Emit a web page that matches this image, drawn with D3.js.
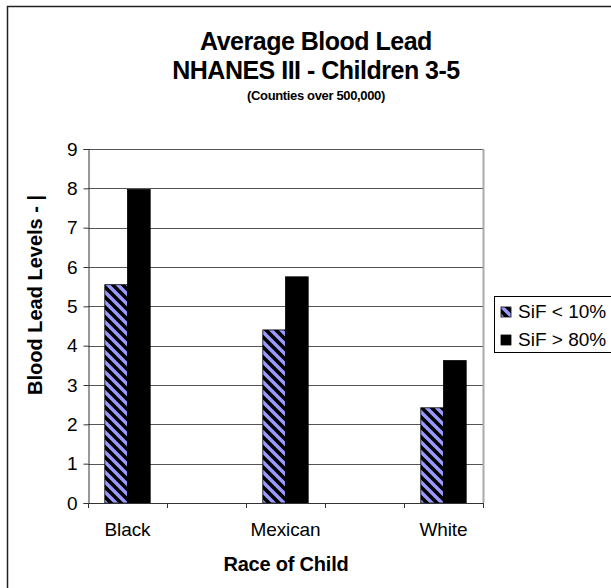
<!DOCTYPE html>
<html>
<head>
<meta charset="utf-8">
<script src="https://cdn.jsdelivr.net/npm/d3@7"></script>
<style>
  html, body { margin: 0; padding: 0; background: #fff; }
  svg { display: block; font-family: "Liberation Sans", Arial, sans-serif; }
</style>
</head>
<body>
<svg id="chart" width="611" height="588"></svg>
<script>
// Category slots: the blank slots keep the groups spaced apart on the axis
const categories = ["Black", "", "Mexican", "", "White"];
const seriesNames = ["SiF < 10%", "SiF > 80%"];
const lowFluoride = [5.55, null, 4.40, null, 2.42];
const highFluoride = [7.97, null, 5.75, null, 3.62];
const yTicks = [0, 1, 2, 3, 4, 5, 6, 7, 8, 9];

const titleLines = ["Average Blood Lead", "NHANES III - Children 3-5"];
const subtitle = "(Counties over 500,000)";
const xTitle = "Race of Child";
const yTitle = "Blood Lead Levels - |";

const svg = d3.select("#chart");
const W = 611, H = 588;
const plot = { left: 88, right: 483, top: 149, bottom: 503 };

// hatched fill for the first series
const defs = svg.append("defs");
const pat = defs.append("pattern")
  .attr("id", "hatch")
  .attr("patternUnits", "userSpaceOnUse")
  .attr("width", 10).attr("height", 10);
pat.append("rect").attr("width", 10).attr("height", 10).attr("fill", "#9999ff");
pat.append("path")
  .attr("d", "M-3,-3 L13,13 M-3,7 L3,13 M7,-3 L13,3")
  .attr("stroke", "#000").attr("stroke-width", 3.6);

// chart frame (runs past the right and bottom edges)
svg.append("rect")
  .attr("x", 7.5).attr("y", 6.5)
  .attr("width", W + 20).attr("height", H + 20)
  .attr("fill", "#fff").attr("stroke", "#222").attr("stroke-width", 1.5);

const y = d3.scaleLinear().domain([0, 9]).range([plot.bottom, plot.top]);
const x = d3.scaleBand().domain(d3.range(categories.length))
  .range([plot.left, plot.right]).paddingInner(0).paddingOuter(0);
const xs = d3.scaleBand().domain(seriesNames)
  .range([0, x.bandwidth()]).paddingInner(0).paddingOuter(0.74);

// gridlines
svg.append("g").selectAll("line")
  .data(yTicks.filter(t => t > 0))
  .join("line")
  .attr("x1", plot.left).attr("x2", plot.right)
  .attr("y1", d => Math.round(y(d)) + 0.5).attr("y2", d => Math.round(y(d)) + 0.5)
  .attr("stroke", "#555").attr("stroke-width", 1);

// right edge of the plot area
svg.append("line")
  .attr("x1", plot.right + 0.5).attr("x2", plot.right + 0.5)
  .attr("y1", plot.top).attr("y2", plot.bottom)
  .attr("stroke", "#aaa").attr("stroke-width", 2);

// bars
const rows = categories.map((c, i) => ({ i, vals: [lowFluoride[i], highFluoride[i]] }));
const groups = svg.append("g").selectAll("g")
  .data(rows.filter(r => r.vals[0] != null))
  .join("g")
  .attr("transform", d => `translate(${x(d.i)},0)`);
groups.selectAll("rect")
  .data(d => d.vals.map((v, k) => ({ v, k })))
  .join("rect")
  .attr("x", d => xs(seriesNames[d.k]))
  .attr("width", xs.bandwidth())
  .attr("y", d => y(d.v))
  .attr("height", d => y(0) - y(d.v))
  .attr("fill", d => d.k === 0 ? "url(#hatch)" : "#000")
  .attr("stroke", "#000").attr("stroke-width", 0.8);

// y axis
const yAxis = d3.axisLeft(y).tickValues(yTicks).tickSize(5).tickPadding(6)
  .tickFormat(d3.format("d"));
const yg = svg.append("g").attr("transform", `translate(${plot.left + 0.5},0)`).call(yAxis);
yg.select(".domain").attr("stroke", "#333");
yg.selectAll(".tick line").attr("stroke", "#333");
yg.selectAll(".tick text").attr("font-size", 19).attr("fill", "#000")
  .attr("font-family", "Liberation Sans, Arial, sans-serif");

// x axis: ticks at slot boundaries, labels at slot centers
const xg = svg.append("g");
xg.append("line")
  .attr("x1", plot.left).attr("x2", plot.right)
  .attr("y1", plot.bottom + 0.5).attr("y2", plot.bottom + 0.5)
  .attr("stroke", "#333");
xg.selectAll("line.tk")
  .data(d3.range(categories.length + 1))
  .join("line").attr("class", "tk")
  .attr("x1", d => Math.round(plot.left + d * x.step()) + 0.5)
  .attr("x2", d => Math.round(plot.left + d * x.step()) + 0.5)
  .attr("y1", plot.bottom).attr("y2", plot.bottom + 5)
  .attr("stroke", "#333");
xg.selectAll("text")
  .data(categories.map((c, i) => ({ c, i })).filter(d => d.c))
  .join("text")
  .attr("x", d => x(d.i) + x.bandwidth() / 2)
  .attr("y", 536)
  .attr("text-anchor", "middle")
  .attr("font-size", 19)
  .attr("letter-spacing", -0.1)
  .text(d => d.c);

// titles
svg.append("text").attr("x", 316).attr("y", 50).attr("text-anchor", "middle")
  .attr("font-size", 25).attr("font-weight", "bold").attr("letter-spacing", -0.5)
  .text(titleLines[0]);
svg.append("text").attr("x", 316).attr("y", 79).attr("text-anchor", "middle")
  .attr("font-size", 25).attr("font-weight", "bold").attr("letter-spacing", -0.5)
  .text(titleLines[1]);
svg.append("text").attr("x", 316).attr("y", 100).attr("text-anchor", "middle")
  .attr("font-size", 13).attr("font-weight", "bold").attr("letter-spacing", -0.35)
  .text(subtitle);

svg.append("text").attr("x", 286).attr("y", 571).attr("text-anchor", "middle")
  .attr("font-size", 20).attr("font-weight", "bold").attr("letter-spacing", -0.2)
  .text(xTitle);
svg.append("text")
  .attr("transform", "translate(42,395) rotate(-90)")
  .attr("text-anchor", "start")
  .attr("font-size", 20).attr("font-weight", "bold").attr("letter-spacing", 0)
  .text(yTitle);

// legend
const lg = svg.append("g");
lg.append("rect").attr("x", 494.5).attr("y", 296.5).attr("width", 140).attr("height", 56)
  .attr("fill", "#fff").attr("stroke", "#000");
seriesNames.forEach((s, k) => {
  const cy = 312 + k * 28;
  lg.append("rect").attr("x", 501).attr("y", cy - 5).attr("width", 10).attr("height", 10)
    .attr("fill", k === 0 ? "url(#hatch)" : "#000").attr("stroke", "#000").attr("stroke-width", 0.8);
  lg.append("text").attr("x", 518).attr("y", cy + 6)
    .attr("font-size", 19).attr("letter-spacing", 0).text(s);
});
</script>
</body>
</html>
